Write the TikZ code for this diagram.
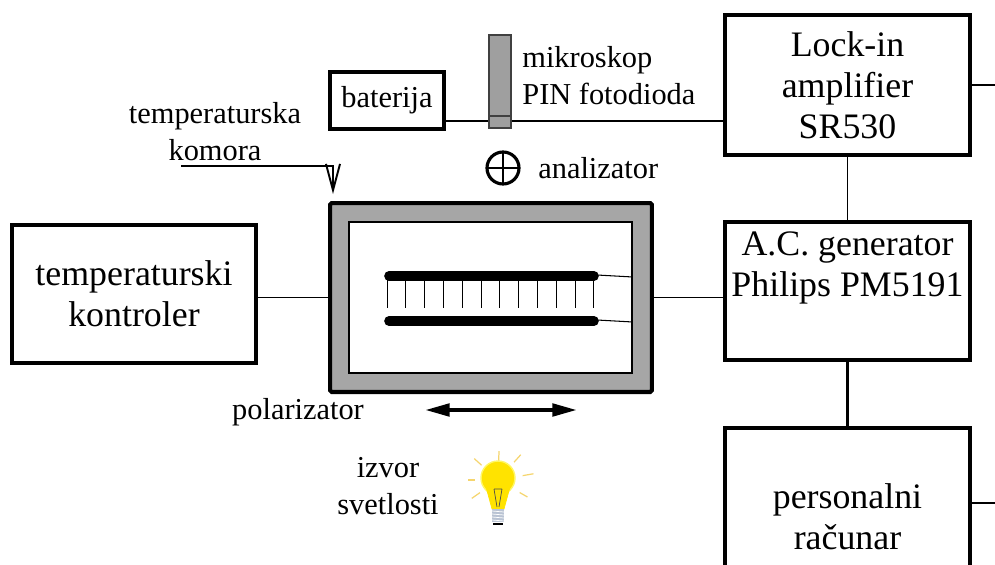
\documentclass[tikz,border=0pt]{standalone}
\usepackage{fontspec}
\setmainfont{Liberation Serif}
\usetikzlibrary{arrows.meta}
\definecolor{komoragray}{HTML}{A6A6A6}
\definecolor{raycol}{HTML}{F5D56E}
\definecolor{bulbcol}{HTML}{FFE300}
\definecolor{basecol}{HTML}{B9C3D3}

\begin{document}
\begin{tikzpicture}
	[x=0.02cm, y=-0.02cm,
	box/.style ={rectangle, draw=black, line width=2.3pt, align=center, font=\fontsize{20.4}{23.3}\selectfont},
	smallbox/.style ={rectangle, draw=black, line width=2.3pt, align=center, font=\fontsize{17.3}{21}\selectfont},
	txt/.style ={align=center, inner sep=0pt, font=\fontsize{17.3}{21}\selectfont},
	bigtxt/.style ={align=center, inner sep=0pt, font=\fontsize{20.4}{23.3}\selectfont},
	line/.style ={draw, line width=1.1pt},
	thinline/.style ={draw, line width=0.6pt},
	ray/.style ={draw=raycol, line width=0.7pt}]
	\useasboundingbox (0,0) rectangle (995,565);
	\clip (0,0) rectangle (995,565);
	\coordinate (rub) at (995,0);
	\draw (847.5, 85) node[box, minimum width=4.9cm, minimum height=2.8cm] (lockin) {Lock-in\\amplifier\\SR530};
	\draw (847.5, 291) node[box, minimum width=4.9cm, minimum height=2.76cm] (acgen) {};
	\draw (847.5, 268) node[bigtxt] (actxt) {A.C. generator\\Philips PM5191};
	\draw (847.5, 517) node[box, minimum width=4.9cm, minimum height=3.56cm] (racunar) {personalni\\ra\v{c}unar};
	\draw (134, 294) node[box, minimum width=4.88cm, minimum height=2.76cm] (kontroler) {temperaturski\\kontroler};
	\draw (387, 100.5) node[smallbox, minimum width=2.28cm, minimum height=1.14cm, inner sep=0pt] (baterija) {baterija};
	\draw (491, 297.5) node[draw, line width=2.3pt, fill=komoragray, rounded corners=1pt, minimum width=6.44cm, minimum height=3.78cm] (komora) {};
	\draw (490.5, 297.5) node[draw, line width=1.1pt, fill=white, minimum width=5.66cm, minimum height=3.02cm] (okno) {};
	\draw (215, 132) node[txt] (komoratxt) {temperaturska\\komora};
	\draw (522, 76) node[txt, anchor=west, align=left] (mikrotxt) {mikroskop\\PIN fotodioda};
	\draw (538, 168) node[txt, anchor=west] (analizatortxt) {analizator};
	\draw (298, 412) node[txt] (polarizatortxt) {polarizator};
	\draw (388, 486) node[txt] (izvortxt) {izvor\\svetlosti};
	\coordinate (polL) at (425, 410);
	\coordinate (polR) at (577, 410);
	\coordinate (komoraL) at (181, 166);
	\coordinate (strelica) at (333, 166);
	\coordinate (vrh) at (333, 194);
	\draw[thinline] (lockin.south) -- (acgen.north);
	\draw[line, line width=1.5pt] (acgen.south) -- (racunar.north);
	\draw[line] (lockin.east) -- (lockin.east -| rub);
	\draw[line] ([yshift=0.28cm]racunar.east) -- ([yshift=0.28cm]racunar.east -| rub);
	\draw[thinline] (kontroler.east |- komora.west) -- (komora.west);
	\draw[thinline] (komora.east) -- (acgen.west |- komora.east);
	\draw[line] (baterija.east |- 0,121) -- (lockin.west |- 0,121);
	\draw[fill=gray!75, draw=black!75, line width=0.6pt] (489,35) rectangle (511,128);
	\draw[thinline, black!75] (489,116) -- (511,116);
	\draw[line width=1.8pt] (503,168) circle (16);
	\draw[line width=1pt] (487,168) -- (519,168) (503,152) -- (503,184);
	\draw[thinline, -{Straight Barb[length=15pt, width=8pt, line width=1.1pt]}] (komoraL) -- (strelica) -- (vrh);
	\draw[line cap=round, line width=5.5pt] (389,276) -- (594,276);
	\draw[line cap=round, line width=5.5pt] (389,321) -- (594,321);
	\foreach \i in {0,...,11}
		\draw[line width=0.5pt] (387+\i*18.8, 276) -- ++(0, 32);
	\draw[thinline] (597,275) -- (okno.east |- 0,277);
	\draw[thinline] (597,320) -- (okno.east |- 0,322);
	\draw[line width=2.3pt, {Triangle[length=14pt, width=7pt]}-{Triangle[length=14pt, width=7pt]}] (polL) -- (polR);
	\foreach \a/\r/\s in {-88/19/29, -48/24/34, -138/22/32, 180/23/30, -10/25/36, 145/22/32, 30/25/34}
		\draw[ray] (498,480) ++(\a:\r) -- ++(\a:\s-\r);
	\filldraw[fill=bulbcol, draw=yellow!60, line width=0.8pt] (498,478) circle (17);
	\filldraw[fill=bulbcol, draw=bulbcol] (486,487) -- (510,487) -- (504,509) -- (492,509) -- cycle;
	\draw[black!70, line width=0.4pt] (494,489) -- (497,507) (502,489) -- (499,507) (494,489) -- (502,489);
	\fill[basecol] (492,509) rectangle (504,522);
	\foreach \k in {0,...,3}
		\draw[white, line width=0.4pt] (492,511+\k*3) -- (504,512+\k*3);
	\draw[line width=0.8pt] (493,524) -- (503,524);
\end{tikzpicture}
\end{document}
